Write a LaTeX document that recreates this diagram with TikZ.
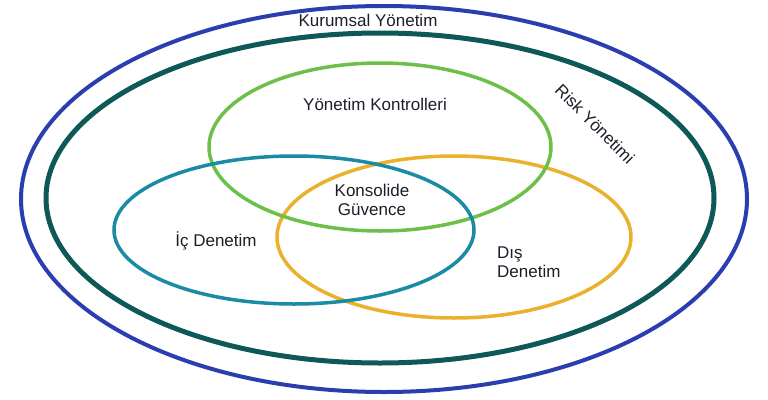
\documentclass[tikz,border=0pt]{standalone}
\usepackage{fontspec}
\setmainfont{Liberation Sans}
\definecolor{cblue}{HTML}{2B3EAF}
\definecolor{cdark}{HTML}{0E5858}
\definecolor{cgreen}{HTML}{6CC04A}
\definecolor{cteal}{HTML}{1A8BA3}
\definecolor{cyellow}{HTML}{E9B12C}
\definecolor{ctext}{HTML}{1E1E2A}
\tikzset{
  lbl/.style={text=ctext, font=\fontsize{17}{19}\selectfont, inner sep=0pt, align=center},
  ring/.style={line width=#1},
}
\begin{document}
\begin{tikzpicture}[x=1pt,y=-1pt]
\useasboundingbox[fill=white] (0,0) rectangle (768,399);
\draw[cblue, line width=4pt] (384,199) ellipse [x radius=363pt, y radius=193pt];
\draw[cdark, line width=5pt] (380,198) ellipse [x radius=334pt, y radius=165pt];
\draw[cyellow, line width=3.5pt] (454,237) ellipse [x radius=177pt, y radius=81pt];
\draw[cgreen, line width=3.5pt] (380,147) ellipse [x radius=171pt, y radius=84pt];
\draw[cteal, line width=3.5pt] (294,230) ellipse [x radius=180pt, y radius=74pt];
\node[lbl] (kurumsal) at (368,20) {Kurumsal Yönetim};
\node[lbl, rotate=-45] (risk) at (595,124) {Risk Yönetimi};
\node[lbl] (kontrol) at (375,104) {Yönetim Kontrolleri};
\node[lbl] (konsolide) at (372,200) {Konsolide\\Güvence};
\node[lbl] (ic) at (216,241) {İç Denetim};
\node[lbl, align=left, anchor=west] (dis) at (497,262) {Dış\\Denetim};
\end{tikzpicture}
\end{document}
